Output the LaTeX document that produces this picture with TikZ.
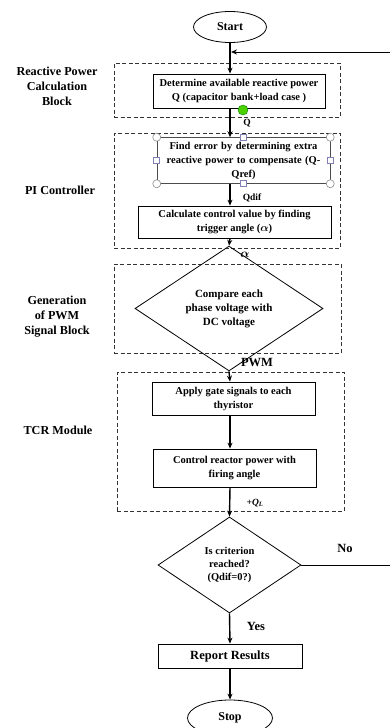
\documentclass[tikz,border=0pt]{standalone}
\usepackage{amsmath, amssymb}
\usepackage{bm}
\usepackage{fontspec}
\setmainfont{Liberation Serif}
\usetikzlibrary{shapes.geometric,arrows.meta,calc}

\tikzset{
  every node/.style={font=\bfseries\fontsize{10.5}{14}\selectfont},
  procbox/.style={draw, line width=0.8pt, inner sep=0pt, align=center},
  termbox/.style={draw, ellipse, line width=0.8pt, inner sep=0pt, font=\bfseries\fontsize{12}{14}\selectfont},
  decbox/.style={draw, diamond, line width=0.8pt, inner sep=0pt, align=center, font=\bfseries\fontsize{11}{14}\selectfont},
  groupbox/.style={draw=black!80, dashed, dash pattern=on 4pt off 2.5pt, line width=0.8pt, inner sep=0pt},
  sidelabel/.style={align=center, font=\bfseries\fontsize{12.2}{15}\selectfont},
  flow/.style={line width=1.4pt, -{Stealth[length=6pt,width=5pt]}},
  backflow/.style={line width=0.8pt, -{Stealth[length=6pt,width=5pt]}},
  sig/.style={font=\bfseries\fontsize{9.5}{11}\selectfont},
  biglbl/.style={font=\bfseries\fontsize{12.5}{14}\selectfont},
  handlec/.style={draw=black!45, fill=white, line width=0.6pt},
  handles/.style={draw=blue!40!black!50, fill=white, line width=0.6pt}
}

\begin{document}
\begin{tikzpicture}[x=1pt, y=-1pt]
\clip (0,0) rectangle (390,728);

% dashed blocks
\node[groupbox, minimum width=226, minimum height=54] (blkq) at (227,90) {};
\node[groupbox, minimum width=226, minimum height=115] (blkpi) at (227,190.5) {};
\node[groupbox, minimum width=227, minimum height=89] (blkpwm) at (227.5,308.5) {};
\node[groupbox, minimum width=227, minimum height=139] (blktcr) at (230.5,441.5) {};

\node[sidelabel] (lblq) at (57,86) {Reactive Power\\Calculation\\Block};
\node[sidelabel] (lblpi) at (60,190) {PI Controller};
\node[sidelabel] (lblpwm) at (57,317) {Generation\\of PWM\\Signal Block};
\node[sidelabel] (lbltcr) at (58,430) {TCR Module};

% flow steps
\node[termbox, minimum width=73, minimum height=31] (start) at (230,27) {Start};
\node[procbox, minimum width=172, minimum height=34] (findq) at (239,91)
  {Determine available reactive power\\Q (capacitor bank+load case )};
\node[procbox, draw=black!70, line width=0.5pt, minimum width=173, minimum height=46, text width=168pt] (err) at (243.5,160.5)
  {Find error by determining extra reactive power to compensate (Q-\\Qref)};
\node[procbox, minimum width=193, minimum height=32] (ctrl) at (234.5,222)
  {Calculate control value by finding\\trigger angle ($\bm{\alpha}$)};
\node[decbox, minimum width=188, minimum height=89] (cmp) at (229,308.5)
  {Compare each\\phase voltage with\\DC voltage};
\node[procbox, minimum width=163, minimum height=33] (gate) at (233.5,398.5)
  {Apply gate signals to each\\thyristor};
\node[procbox, minimum width=163, minimum height=38] (react) at (234.5,468)
  {Control reactor power with\\firing angle};
\node[decbox, minimum width=143, minimum height=96, font=\bfseries\fontsize{10.5}{13}\selectfont] (crit) at (229.5,565)
  {Is criterion\\reached?\\(Qdif=0?)};
\node[procbox, minimum width=144, minimum height=24, font=\bfseries\fontsize{12.5}{14}\selectfont] (report) at (230,656)
  {Report Results};
\node[termbox, minimum width=85, minimum height=36] (stop) at (230,718) {Stop};

% selection handles round the error box
\foreach \p in {north west, north east, south west, south east}
  \draw[handlec] (err.\p) circle (4);
\foreach \p in {north, south, west, east}
  \draw[handles] ($(err.\p)+(-3,-3)$) rectangle ($(err.\p)+(3,3)$);
\fill[green!70!black!60!lime, draw=green!50!black] (243,110) circle (5);

% connectors
\coordinate (join) at (230,52);
\coordinate (fb) at (396,52);
\draw[line width=1.4pt] (start.south) -- (join);
\draw[flow] (join) -- (join |- findq.north);
\draw[flow] (findq.south -| join) -- (err.north -| join);
\draw[flow] (err.south -| join) -- (ctrl.north -| join);
\draw[flow] (ctrl.south -| join) -- (cmp.north);
\draw[flow] (cmp.south) -- (gate.north -| join);
\draw[flow] (gate.south -| join) -- (react.north -| join);
\draw[flow] (react.south -| join) -- (crit.north);
\draw[flow] (crit.south) -- (report.north);
\draw[flow] (report.south) -- (stop.north);
\draw[backflow] (crit.east) -| (fb) -- ($(join)+(1,0)$);

% signal labels
\node[sig] (lq) at (247,123) {Q};
\node[sig] (lqdif) at (252,198) {Qdif};
\node[sig, font=\fontsize{12}{12}\selectfont] (lalpha) at (245,255) {$\bm{\alpha}$};
\node[biglbl] (lpwm) at (257,362) {PWM};
\node[sig] (lql) at (255,503) {\itshape +Q\textsubscript{L}};
\node[biglbl] (lyes) at (256,626) {Yes};
\node[biglbl] (lno) at (345,548) {No};
\end{tikzpicture}
\end{document}
